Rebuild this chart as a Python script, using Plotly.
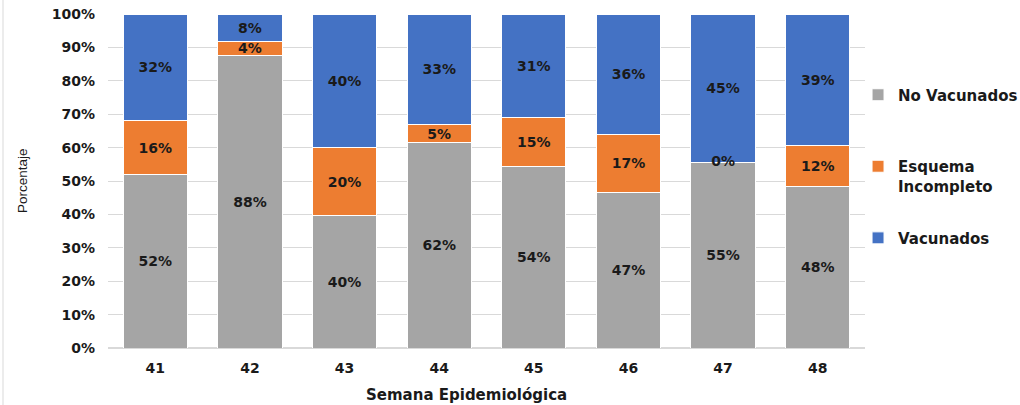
import plotly.graph_objects as go

semanas = ["41", "42", "43", "44", "45", "46", "47", "48"]
no_vacunados = [51.8, 87.7, 39.8, 61.6, 54.2, 46.7, 55.4, 48.5]
esquema_incompleto = [16.2, 4.2, 20.1, 5.2, 14.7, 17.1, 0.0, 12.1]
vacunados = [32.0, 8.1, 40.1, 33.2, 31.1, 36.2, 44.6, 39.4]

series = [
    ("No Vacunados", no_vacunados, "#A5A5A5", "legend"),
    ("Esquema<br>Incompleto", esquema_incompleto, "#ED7D31", "legend2"),
    ("Vacunados", vacunados, "#4472C4", "legend3"),
]

FONT = "DejaVu Sans"
TXT = "#1a1a1a"
LBL = dict(family=FONT, size=14, color=TXT, weight="bold")

fig = go.Figure()
for name, vals, color, leg in series:
    fig.add_trace(go.Bar(
        x=semanas, y=vals, name=name, legend=leg,
        marker=dict(color=color, line=dict(color="white", width=1)),
        text=[f"{round(v)}%" if v > 0 else "" for v in vals],
        textposition="inside", insidetextanchor="middle", textangle=0,
        textfont=LBL, hoverinfo="skip",
    ))

# labels for zero-height segments (e.g. 0% Esquema Incompleto)
zx, zy, zt = [], [], []
for j, s in enumerate(semanas):
    if esquema_incompleto[j] == 0:
        zx.append(s)
        zy.append(no_vacunados[j])
        zt.append(f"{round(esquema_incompleto[j])}%")
fig.add_trace(go.Scatter(
    x=zx, y=zy, text=zt, mode="text", showlegend=False,
    textfont=LBL, hoverinfo="skip",
))

legfont = dict(family=FONT, size=15, color=TXT, weight="bold")
legx = 0.9908

fig.update_layout(
    width=1020, height=405,
    barmode="stack", bargap=0.32,
    plot_bgcolor="white", paper_bgcolor="white",
    margin=dict(l=108, r=155, t=14, b=57, autoexpand=False),
    uniformtext=dict(minsize=14, mode="show"),
    font=dict(family=FONT, size=14, color=TXT),
    legend=dict(x=legx, xanchor="left", y=0.7575, yanchor="middle", font=legfont, bgcolor="rgba(0,0,0,0)"),
    legend2=dict(x=legx, xanchor="left", y=0.515, yanchor="middle", font=legfont, valign="top", bgcolor="rgba(0,0,0,0)"),
    legend3=dict(x=legx, xanchor="left", y=0.329, yanchor="middle", font=legfont, bgcolor="rgba(0,0,0,0)"),
    xaxis=dict(
        showgrid=False, showline=False, ticks="", automargin=False,
        tickfont=dict(family=FONT, size=14, color=TXT, weight="bold"),
        ticklabelstandoff=10, ticklabeloverflow="allow",
    ),
    yaxis=dict(
        range=[0, 100], dtick=10, ticksuffix="%", automargin=False,
        showgrid=True, gridcolor="#D9D9D9", gridwidth=1,
        zeroline=True, zerolinecolor="#D9D9D9",
        tickfont=dict(family=FONT, size=14, color=TXT, weight="bold"),
        ticks="", ticklabelstandoff=12, ticklabeloverflow="allow",
    ),
    annotations=[
        dict(text="Semana Epidemiológica", xref="paper", yref="paper",
             x=0.474, y=-0.1407, xanchor="center", yanchor="middle", showarrow=False,
             font=dict(family=FONT, size=15, color=TXT, weight="bold")),
        dict(text="Porcentaje", xref="paper", yref="paper", textangle=-90,
             x=-0.1136, y=0.5, xanchor="center", yanchor="middle", showarrow=False,
             font=dict(family="Liberation Sans", size=13.5, color=TXT)),
    ],
    shapes=[dict(type="line", xref="paper", yref="paper",
                 x0=-0.1387, x1=-0.1387, y0=-0.171, y1=1.042,
                 line=dict(color="#D9D9D9", width=1))],
)

fig.write_html(
    "out.html",
    config={"displayModeBar": False},
    post_script="document.body.style.margin='0';document.body.style.overflow='hidden';",
)
